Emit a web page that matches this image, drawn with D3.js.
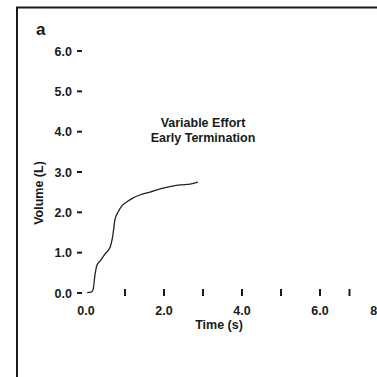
<!DOCTYPE html>
<html><head><meta charset="utf-8">
<script src="https://cdn.jsdelivr.net/npm/d3@7"></script>
<style>body{margin:0;background:#fff}svg{display:block}text{font-family:"Liberation Sans",Arial,sans-serif;font-weight:bold;fill:#1a1a1a}</style>
</head><body>
<script>
const timeS = [0.03,0.13,0.18,0.23,0.28,0.36,0.49,0.62,0.69,0.74,0.82,0.92,1.05,1.21,1.38,1.64,1.90,2.15,2.41,2.67,2.87];
const volumeL = [0.01,0.02,0.08,0.45,0.69,0.79,0.97,1.14,1.44,1.81,2.00,2.16,2.26,2.36,2.43,2.50,2.58,2.64,2.68,2.70,2.75];
const yTicks = [0,1,2,3,4,5,6];
const xLabelTicks = [0,2,4,6,8];
const xMarkTicks = [1,2,3,4,5,6,7];
const titleLines = ["Variable Effort","Early Termination"];

const W=377,H=377;
const svg=d3.select("body").append("svg").attr("width",W).attr("height",H);
// frame
svg.append("path").attr("d","M17,377 V7.5 H377").attr("fill","none").attr("stroke","#1a1a1a").attr("stroke-width",2);

const x=d3.scaleLinear().domain([0,6,8]).range([86,320,379]);
const y=d3.scaleLinear().domain([0,6]).range([293,51]);

svg.append("text").attr("x",36).attr("y",35).attr("font-size",17).text("a");

// y axis
const ya=svg.append("g");
yTicks.forEach(v=>{
  ya.append("line").attr("x1",77).attr("x2",82).attr("y1",y(v)).attr("y2",y(v)).attr("stroke","#1a1a1a").attr("stroke-width",2);
  ya.append("text").attr("x",72).attr("y",y(v)+4.5).attr("text-anchor","end").attr("font-size",12.5).text(v.toFixed(1));
});
svg.append("text").attr("transform","translate(43,193) rotate(-90)").attr("text-anchor","middle").attr("font-size",12.5).text("Volume (L)");

// x axis
xMarkTicks.forEach(v=>{
  svg.append("line").attr("x1",x(v)).attr("x2",x(v)).attr("y1",289).attr("y2",296).attr("stroke","#1a1a1a").attr("stroke-width",2);
});
xLabelTicks.forEach(v=>{
  svg.append("text").attr("x",x(v)).attr("y",315).attr("text-anchor","middle").attr("font-size",12.5).text(v.toFixed(1));
});
svg.append("text").attr("x",219).attr("y",329).attr("text-anchor","middle").attr("font-size",12.5).text("Time (s)");

// title
titleLines.forEach((t,i)=>{
  svg.append("text").attr("x",203).attr("y",127+i*14.5).attr("text-anchor","middle").attr("font-size",12.5).text(t);
});

// curve
const line=d3.line().x((d,i)=>x(timeS[i])).y(d=>y(d)).curve(d3.curveMonotoneX);
svg.append("path").attr("d",line(volumeL)).attr("fill","none").attr("stroke","#222").attr("stroke-width",1.3);
</script>
</body></html>
